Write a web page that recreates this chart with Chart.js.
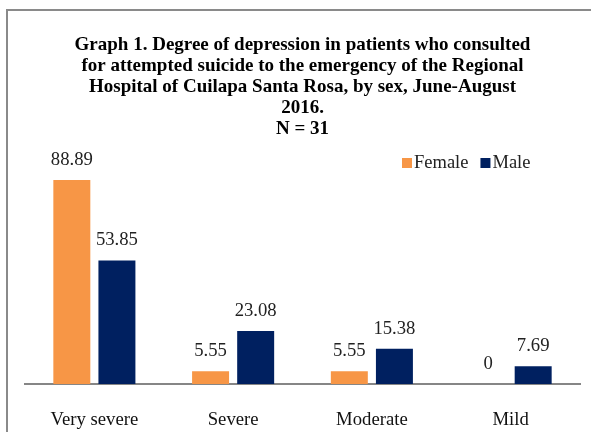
<!DOCTYPE html>
<html>
<head>
<meta charset="utf-8">
<script src="https://cdn.jsdelivr.net/npm/chart.js@4/dist/chart.umd.min.js"></script>
<style>
  body { margin: 0; background: #fff; }
  #wrap { position: relative; width: 591px; height: 432px; overflow: hidden; }
  #frame { position: absolute; left: 6px; top: 9px; width: 620px; height: 460px; border: 2px solid #8a8a8a; }
  #c { position: absolute; left: 0; top: 0; }
</style>
</head>
<body>
<div id="wrap">
  <div id="frame"></div>
  <canvas id="c" width="591" height="432"></canvas>
</div>
<script>
const categories = ['Very severe', 'Severe', 'Moderate', 'Mild']
const female = [88.89, 5.55, 5.55, 0]
const male = [53.85, 23.08, 15.38, 7.69]
const titleLines = [
    'Graph 1. Degree of depression in patients who consulted',
    'for attempted suicide to the emergency of the Regional',
    'Hospital of Cuilapa Santa Rosa, by sex, June-August',
    '2016.',
    'N = 31'
]

const serif = "'Liberation Serif', 'Times New Roman', serif"

// value labels above each bar
const valueLabels = {
    id: 'valueLabels',
    afterDatasetsDraw(chart) {
        const ctx = chart.ctx
        ctx.save()
        ctx.font = '18.7px ' + serif
        ctx.fillStyle = '#222'
        ctx.textAlign = 'center'
        ctx.textBaseline = 'middle'
        chart.data.datasets.forEach((ds, i) => {
            chart.getDatasetMeta(i).data.forEach((bar, j) => {
                ctx.fillText(String(ds.data[j]), bar.x, bar.y - 20)
            })
        })
        ctx.restore()
    }
}

// simple legend in the top right of the plot
const cornerLegend = {
    id: 'cornerLegend',
    afterDraw(chart) {
        const ctx = chart.ctx
        ctx.save()
        ctx.font = '18.5px ' + serif
        ctx.textBaseline = 'middle'
        let x = 402
        const y = 163
        chart.data.datasets.forEach(ds => {
            ctx.fillStyle = ds.backgroundColor
            ctx.fillRect(x, y - 5, 10, 10)
            ctx.fillStyle = '#222'
            ctx.fillText(ds.label, x + 12, y)
            x += 12 + ctx.measureText(ds.label).width + 12
        })
        ctx.restore()
    }
}

new Chart(document.getElementById('c'), {
    type: 'bar',
    data: {
        labels: categories,
        datasets: [
            { label: 'Female', data: female, backgroundColor: '#F79646' },
            { label: 'Male', data: male, backgroundColor: '#002060' }
        ]
    },
    options: {
        responsive: false,
        animation: false,
        layout: { padding: { left: 25, right: 11, top: 0, bottom: 0 } },
        datasets: {
            bar: { categoryPercentage: 0.65, barPercentage: 0.82 }
        },
        plugins: {
            legend: { display: false },
            tooltip: { enabled: false },
            title: {
                display: true,
                text: titleLines,
                color: '#000',
                font: { family: serif, size: 19, weight: 'bold', lineHeight: 21 / 19 },
                padding: { top: 35, bottom: 14.5 }
            }
        },
        scales: {
            x: {
                grid: { display: false, drawTicks: false },
                border: { color: '#868686', width: 2 },
                ticks: { color: '#111', font: { family: serif, size: 18.7 }, padding: 25 },
                afterFit(scale) { scale.height = 48 }
            },
            y: {
                display: false,
                min: 0,
                max: 100
            }
        }
    },
    plugins: [valueLabels, cornerLegend]
})
</script>
</body>
</html>
